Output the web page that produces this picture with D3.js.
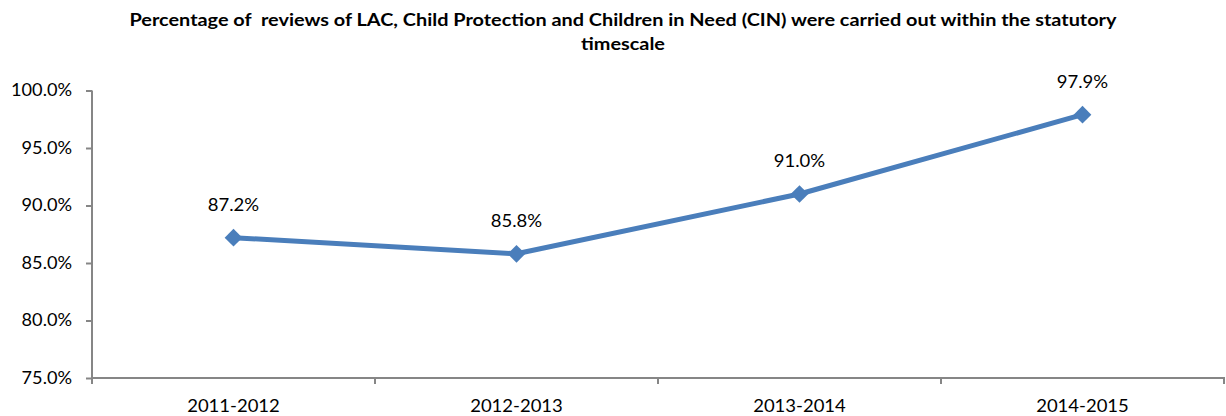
<!DOCTYPE html>
<html><head><meta charset="utf-8">
<script src="https://cdn.jsdelivr.net/npm/d3@7"></script>
<style>body{margin:0;background:#fff}svg{display:block}text{white-space:pre}</style>
</head><body>
<svg id="c" width="1226" height="416"></svg>
<script>
const categories = ["2011-2012","2012-2013","2013-2014","2014-2015"];
const values = [87.2, 85.8, 91.0, 97.9];
const yTicks = [75, 80, 85, 90, 95, 100];
const titleLines = ["Percentage of  reviews of LAC, Child Protection and Children in Need (CIN) were carried out within the statutory","timescale"];

const svg = d3.select("#c");
const font = "Lato, 'Open Sans', sans-serif";
const x = d3.scaleBand().domain(categories).range([92, 1224]);
const y = d3.scaleLinear().domain([75, 100]).range([378, 90.5]);

function stretch(sel, k) {
  sel.each(function(){
    const w = this.getComputedTextLength();
    d3.select(this).attr("textLength", w*k).attr("lengthAdjust","spacingAndGlyphs");
  });
}

const titles = svg.selectAll("text.title").data(titleLines).enter().append("text")
  .attr("class","title")
  .attr("x", 623).attr("y", (d,i)=>25.5 + i*24.5)
  .attr("text-anchor","middle").attr("font-family",font).attr("font-weight","bold")
  .attr("font-size","16.5px").attr("fill","#000").text(d=>d);
const w0 = titles.node().getComputedTextLength();
stretch(titles, 987 / w0);

const grey = "#868686";
const yAxis = svg.append("g").attr("transform","translate(92,0)")
  .call(d3.axisLeft(y).tickValues(yTicks).tickSize(6).tickPadding(14).tickFormat(d=>d.toFixed(1)+"%"));
const xAxis = svg.append("g").attr("transform","translate(0,378)")
  .call(d3.axisBottom(x).tickSize(0).tickPadding(22));
const bounds = categories.map(c=>x(c)).concat([x.range()[1]]);
xAxis.selectAll("line.b").data(bounds).enter().append("line")
  .attr("x1",d=>d).attr("x2",d=>d).attr("y1",0).attr("y2",6).attr("stroke",grey).attr("stroke-width",2);
[yAxis,xAxis].forEach(g=>{
  g.select(".domain").attr("stroke",grey).attr("stroke-width",2);
  g.selectAll(".tick line").attr("stroke",grey).attr("stroke-width",2);
  g.selectAll(".tick text").attr("font-family",font).attr("font-size","16.5px").attr("fill","#000");
});
yAxis.select(".domain").attr("d","M0,90.5V378");
xAxis.select(".domain").attr("d","M92,0H1225");
stretch(yAxis.selectAll(".tick text"), 1.1);
stretch(xAxis.selectAll(".tick text"), 1.12);

const cx = d => x(d) + x.bandwidth()/2;
const line = d3.line().x((d,i)=>cx(categories[i])).y(d=>y(d));
svg.append("path").datum(values).attr("d",line).attr("fill","none")
  .attr("stroke","#4a7ebb").attr("stroke-width",5).attr("stroke-linejoin","round");
svg.selectAll("path.m").data(values).enter().append("path")
  .attr("transform",(d,i)=>`translate(${cx(categories[i])},${y(d)})`)
  .attr("d",d3.symbol().type(d3.symbolDiamond2).size(200))
  .attr("fill","#4a7ebb");
const lbls = svg.selectAll("text.lbl").data(values).enter().append("text")
  .attr("class","lbl")
  .attr("x",(d,i)=>cx(categories[i])).attr("y",d=>y(d)-27)
  .attr("text-anchor","middle").attr("font-family",font).attr("font-size","16.5px")
  .attr("fill","#000").text(d=>d.toFixed(1)+"%");
stretch(lbls, 1.12);
</script>
</body></html>
